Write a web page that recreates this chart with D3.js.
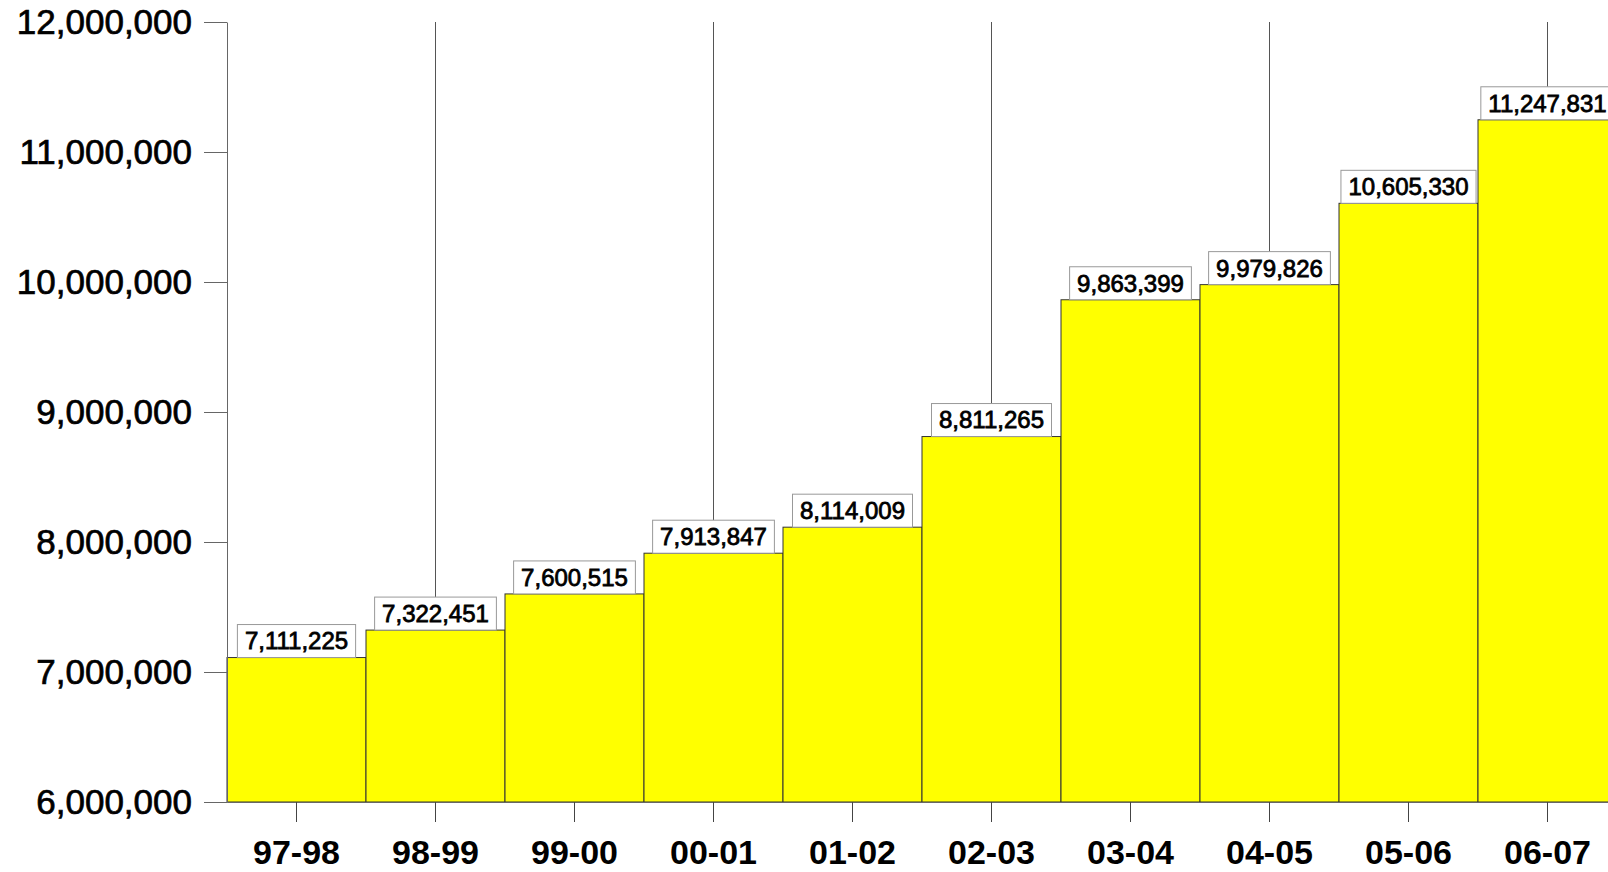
<!DOCTYPE html>
<html>
<head>
<meta charset="utf-8">
<script src="https://cdn.jsdelivr.net/npm/d3@7"></script>
<style>
  body { margin: 0; background: #fff; }
  svg { display: block; }
</style>
</head>
<body>
<div id="chart"></div>
<script>
// data
var years = ["97-98","98-99","99-00","00-01","01-02","02-03","03-04","04-05","05-06","06-07"];
var values = [7111225, 7322451, 7600515, 7913847, 8114009, 8811265, 9863399, 9979826, 10605330, 11247831];
var yTicks = [6000000, 7000000, 8000000, 9000000, 10000000, 11000000, 12000000];

function drawChart() {
  var width = 1608, height = 872;
  var plotLeft = 227, plotTop = 22, plotBottom = 802;
  var barW = 139;
  var boxH = 33;

  var svg = d3.select("#chart").append("svg")
    .attr("width", width)
    .attr("height", height);

  var x = d3.scaleBand()
    .domain(years)
    .range([plotLeft, plotLeft + barW * years.length])
    .padding(0);

  var y = d3.scaleLinear()
    .domain([6000000, 12000000])
    .range([plotBottom, plotTop]);

  var fmt = d3.format(",");

  // leader lines from the top for every other year
  svg.selectAll(".lead")
    .data(years.filter(function(d, i) { return i % 2 == 1; }))
    .enter().append("line")
    .attr("class", "lead")
    .attr("x1", function(d) { return x(d) + x.bandwidth() / 2; })
    .attr("x2", function(d) { return x(d) + x.bandwidth() / 2; })
    .attr("y1", plotTop)
    .attr("y2", function(d) { return y(values[years.indexOf(d)]) - boxH; })
    .style("stroke", "#555")
    .style("stroke-width", 1);

  // bars
  svg.selectAll(".bar")
    .data(values)
    .enter().append("rect")
    .attr("class", "bar")
    .attr("x", function(d, i) { return x(years[i]); })
    .attr("y", function(d) { return y(d); })
    .attr("width", x.bandwidth())
    .attr("height", function(d) { return plotBottom - y(d); })
    .style("fill", "#ffff00")
    .style("stroke", "#333")
    .style("stroke-width", 1);

  // y axis
  var yAxis = svg.append("g")
    .attr("transform", "translate(" + plotLeft + ",0)")
    .call(d3.axisLeft(y).tickValues(yTicks).tickFormat(fmt)
      .tickSize(23).tickSizeOuter(0).tickPadding(12));
  yAxis.select(".domain").style("stroke", "#666");
  yAxis.selectAll(".tick line").style("stroke", "#666");
  yAxis.selectAll("text")
    .style("font-family", "'Liberation Sans', Arial, sans-serif")
    .style("font-size", "35px")
    .style("fill", "#000")
    .style("stroke", "#000")
    .style("stroke-width", 0.7);

  // x axis
  var xAxis = svg.append("g")
    .attr("transform", "translate(0," + plotBottom + ")")
    .call(d3.axisBottom(x).tickSize(20).tickSizeOuter(0).tickPadding(18));
  xAxis.select(".domain").style("stroke", "#666");
  xAxis.selectAll(".tick line").style("stroke", "#444");
  xAxis.selectAll("text")
    .style("font-family", "'Liberation Sans', Arial, sans-serif")
    .style("font-size", "34px")
    .style("font-weight", "bold")
    .style("fill", "#000");

  // value labels in boxes
  var lab = svg.selectAll(".lab")
    .data(values)
    .enter().append("g")
    .attr("class", "lab")
    .attr("transform", function(d, i) {
      return "translate(" + (x(years[i]) + x.bandwidth() / 2) + "," + y(d) + ")";
    });

  var boxes = lab.append("rect")
    .style("fill", "#fff")
    .style("stroke", "#999")
    .style("stroke-width", 1);

  var txt = lab.append("text")
    .attr("text-anchor", "middle")
    .attr("y", -boxH / 2)
    .attr("dy", "0.35em")
    .style("font-family", "'Liberation Sans', Arial, sans-serif")
    .style("font-size", "24px")
    .style("fill", "#000")
    .style("stroke", "#000")
    .style("stroke-width", 0.8)
    .text(function(d) { return fmt(d); });

  txt.each(function(d, i) {
    var w = this.getComputedTextLength() + 15;
    d3.select(boxes.nodes()[i])
      .attr("x", -w / 2)
      .attr("y", -boxH)
      .attr("width", w)
      .attr("height", boxH);
  });
}

drawChart();
</script>
</body>
</html>
